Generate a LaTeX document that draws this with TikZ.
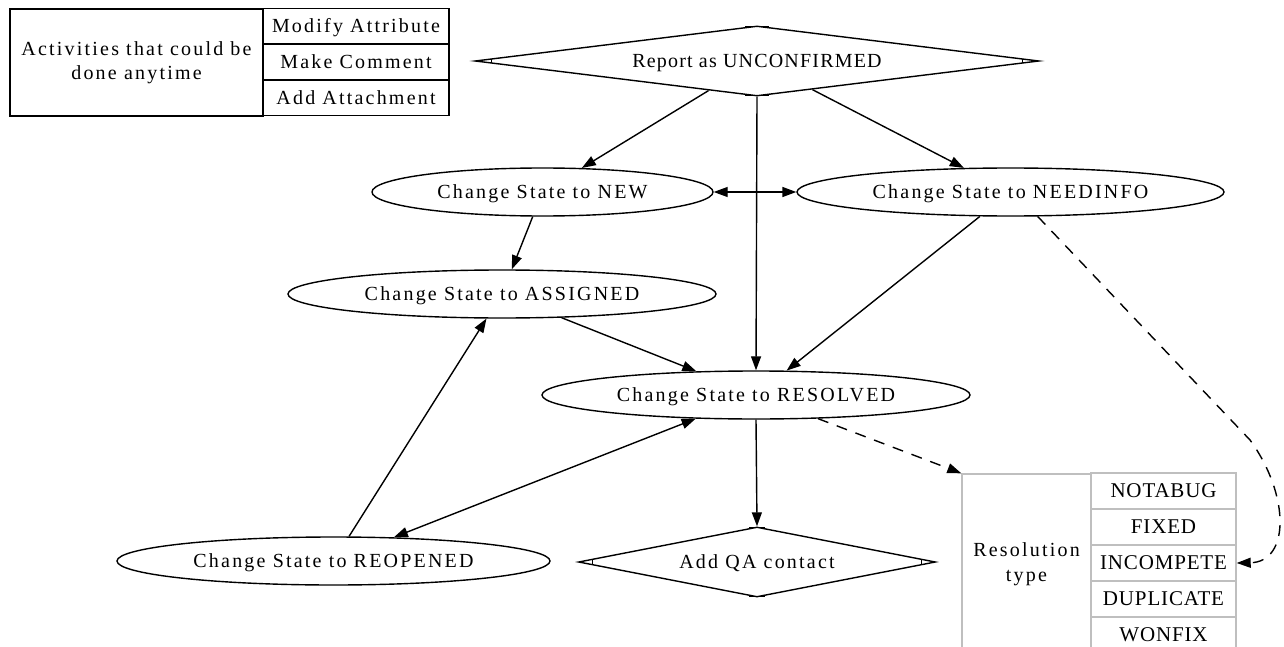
\documentclass[tikz,border=0pt]{standalone}
\usepackage{fontspec}
\setmainfont{Liberation Serif}
\newfontfamily\lsfont[LetterSpace=11]{Liberation Serif}
\newfontfamily\rpfont[LetterSpace=6]{Liberation Serif}
\newfontfamily\capfont[LetterSpace=4]{Liberation Serif}
\usetikzlibrary{shapes.geometric,arrows.meta,calc}
\begin{document}
\begin{tikzpicture}[x=1pt,y=-1pt,
  every node/.style={font=\fontsize{20}{24.5}\lsfont, inner sep=0pt, align=center},
  oneline/.style={text height=17pt, text depth=4pt},
  stateE/.style={ellipse, draw, line width=1.4pt, minimum height=48pt, oneline},
  dia/.style={diamond, draw, line width=1.4pt, minimum height=70pt, oneline},
  cell/.style={rectangle, draw, line width=1.4pt},
  gcell/.style={rectangle, draw=lightgray, line width=1.4pt, minimum width=145pt, minimum height=36pt, font=\fontsize{21}{24}\capfont, oneline},
  conn/.style={line width=1.4pt, -{Triangle[length=14pt,width=10pt]}},
  bconn/.style={line width=1.4pt, {Triangle[length=14pt,width=10pt]}-{Triangle[length=14pt,width=10pt]}},
  dconn/.style={conn, dash pattern=on 11pt off 9pt},
  cornermark/.style={line width=1.2pt}
]
\useasboundingbox (0,0) rectangle (1284,647);

% legend table
\node[cell, minimum width=253pt, minimum height=107pt] (legL) at (136.5,62.5) {Activities that could be\\done anytime};
\node[cell, oneline, minimum width=186pt, minimum height=35.7pt] (leg1) at (356,26.3) {Modify Attribute};
\node[cell, oneline, minimum width=186pt, minimum height=35.7pt] (leg2) at (356,62) {Make Comment};
\node[cell, oneline, minimum width=186pt, minimum height=35.7pt] (leg3) at (356,97.7) {Add Attachment};

% diamonds
\node[dia, minimum width=564pt, shape aspect=8, font=\fontsize{20}{24}\rpfont] (rep) at (757,61) {Report as UNCONFIRMED};
\node[dia, minimum width=357pt, shape aspect=5.1] (qa) at (757,562) {Add QA contact};

% Mdiamond marks
\draw[cornermark] ($(rep.west)+(17,-2.1)$) -- ($(rep.west)+(17,2.1)$);
\draw[cornermark] ($(rep.east)+(-17,-2.1)$) -- ($(rep.east)+(-17,2.1)$);
\draw[cornermark] ($(rep.north)+(-12,1.5)$) -- ($(rep.north)+(12,1.5)$);
\draw[cornermark] ($(rep.south)+(-12,-1.5)$) -- ($(rep.south)+(12,-1.5)$);
\draw[cornermark] ($(qa.west)+(15,-2.9)$) -- ($(qa.west)+(15,2.9)$);
\draw[cornermark] ($(qa.east)+(-15,-2.9)$) -- ($(qa.east)+(-15,2.9)$);
\draw[cornermark] ($(qa.north)+(-7.6,1.5)$) -- ($(qa.north)+(7.6,1.5)$);
\draw[cornermark] ($(qa.south)+(-7.6,-1.5)$) -- ($(qa.south)+(7.6,-1.5)$);

% states
\node[stateE, minimum width=341pt] (new) at (542.5,192) {Change State to NEW};
\node[stateE, minimum width=427pt] (need) at (1010.5,192) {Change State to NEEDINFO};
\node[stateE, minimum width=428pt] (asg) at (502,294) {Change State to ASSIGNED};
\node[stateE, minimum width=428pt] (res) at (756,395) {Change State to RESOLVED};
\node[stateE, minimum width=433pt] (reo) at (333.5,561) {Change State to REOPENED};

% resolution table
\node[rectangle, draw=lightgray, line width=1.4pt, minimum width=129pt, minimum height=180pt] (resL) at (1026.5,564) {Resolution\\type};
\node[gcell] (r1) at (1163.5,491) {NOTABUG};
\node[gcell] (r2) at (1163.5,527) {FIXED};
\node[gcell] (r3) at (1163.5,563) {INCOMPETE};
\node[gcell] (r4) at (1163.5,599) {DUPLICATE};
\node[gcell] (r5) at (1163.5,635) {WONFIX};

% connectors
\draw[conn] (rep) -- (new);
\draw[conn] (rep) -- (need);
\draw[conn] (rep.south) -- (res.north);
\draw[bconn] (new) -- (need);
\draw[conn] (new) -- (asg);
\draw[conn] (need) -- (res);
\draw[conn] (asg) -- (res);
\draw[conn] (res.south) -- (qa.north);
\draw[bconn] (res) -- (reo);
\draw[conn] (reo) -- (asg);
\draw[dconn] (res) -- (resL.north west);
\draw[dconn] (need.-42) -- (1250,440) .. controls (1290,495) and (1290,562) .. (r3.east);
\end{tikzpicture}
\end{document}
